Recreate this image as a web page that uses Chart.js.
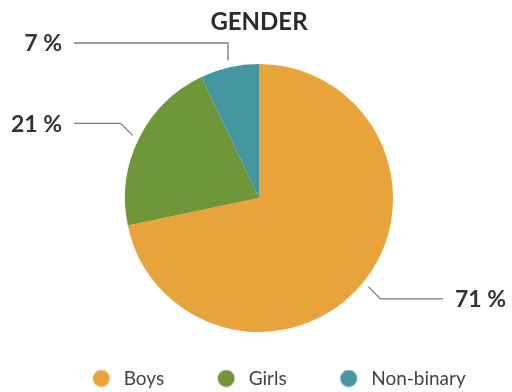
<!DOCTYPE html>
<html>
<head>
<meta charset="utf-8">
<script src="https://cdn.jsdelivr.net/npm/chart.js@4/dist/chart.umd.min.js"></script>
<style>
  html, body { margin: 0; padding: 0; background: #fff; }
  #wrap { width: 512px; height: 392px; }
</style>
</head>
<body>
<div id="wrap"><canvas id="genderPie"></canvas></div>
<script>
var categories = ['Boys', 'Girls', 'Non-binary'];
var shares = [71, 21, 7];
var sliceColors = ['#E9A33B', '#6F9638', '#4497A1'];

// legend dot drawn into a wide canvas: blank space on the left spaces the items out
var makeDot = function (color) {
    var c = document.createElement('canvas');
    c.width = 62;
    c.height = 18;
    var g = c.getContext('2d');
    g.fillStyle = color;
    g.beginPath();
    g.arc(49, 9, 8.5, 0, Math.PI * 2);
    g.fill();
    return c;
};
var dots = sliceColors.map(makeDot);

var leaderLines = {
    id: 'leaderLines',
    afterDatasetsDraw: function (chart) {
        var ctx = chart.ctx;
        var meta = chart.getDatasetMeta(0);
        ctx.save();
        ctx.strokeStyle = '#7a7a7a';
        ctx.lineWidth = 1.3;
        ctx.fillStyle = '#333';
        ctx.font = 'bold 23px Lato, "Open Sans", sans-serif';
        ctx.textBaseline = 'middle';
        meta.data.forEach(function (arc, i) {
            var p = arc.getProps(['x', 'y', 'startAngle', 'endAngle', 'outerRadius'], true);
            var mid = (p.startAngle + p.endAngle) / 2;
            var cos = Math.cos(mid), sin = Math.sin(mid);
            var r = p.outerRadius + 7;
            var x0 = p.x + r * cos, y0 = p.y + r * sin;
            var left = cos < 0;
            var x1, y1;
            if (sin < -0.9) {
                x1 = x0;
                y1 = p.y - p.outerRadius - 21;
            } else {
                x1 = x0 + (left ? -12 : 12);
                y1 = y0 + (sin < 0 ? -12 : 12);
            }
            var x2 = left ? p.x - 185 : p.x + 184;
            ctx.beginPath();
            ctx.moveTo(x0, y0);
            ctx.lineTo(x1, y1);
            ctx.lineTo(x2, y1);
            ctx.stroke();
            ctx.textAlign = left ? 'right' : 'left';
            ctx.fillText(shares[i] + ' %', left ? x2 - 12 : x2 + 12, y1 + 1);
        });
        ctx.restore();
    }
};

var defaultLabels = Chart.overrides.doughnut.plugins.legend.labels.generateLabels;

new Chart(document.getElementById('genderPie').getContext('2d'), {
    type: 'pie',
    data: {
        labels: categories,
        datasets: [{
            data: shares,
            backgroundColor: sliceColors,
            borderWidth: 0
        }]
    },
    options: {
        responsive: true,
        maintainAspectRatio: false,
        animation: false,
        radius: 134,
        layout: { padding: { left: 6, right: 0, top: 0, bottom: 0 } },
        plugins: {
            title: {
                display: true,
                text: 'GENDER',
                color: '#2b2b2b',
                font: { family: 'Lato, "Open Sans", sans-serif', size: 24, weight: 'bold' },
                padding: { top: 8, bottom: 3.2 }
            },
            legend: {
                position: 'bottom',
                maxHeight: 36,
                labels: {
                    usePointStyle: true,
                    pointStyleWidth: 62,
                    boxHeight: 16,
                    padding: 13,
                    color: '#444',
                    font: { family: 'Lato, "Open Sans", sans-serif', size: 19 },
                    generateLabels: function (chart) {
                        return defaultLabels(chart).map(function (item, i) {
                            item.pointStyle = dots[i];
                            return item;
                        });
                    }
                }
            },
            tooltip: { enabled: false }
        }
    },
    plugins: [leaderLines]
});
</script>
</body>
</html>
